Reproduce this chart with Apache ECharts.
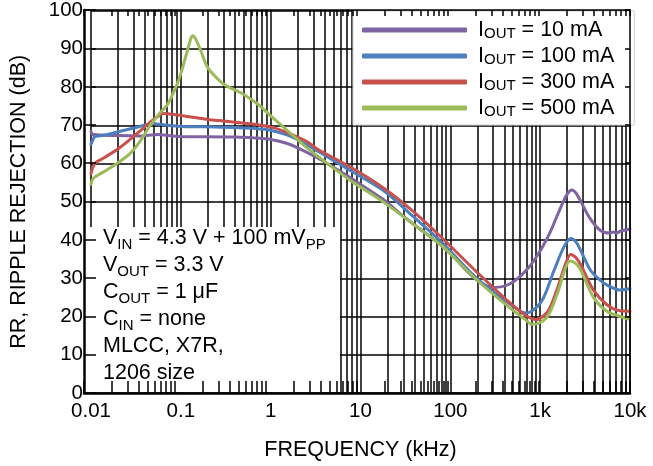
<!DOCTYPE html>
<html>
<head>
<meta charset="utf-8">
<script src="https://cdn.jsdelivr.net/npm/echarts@6/dist/echarts.min.js"></script>
<style>html,body{margin:0;padding:0;background:#fff}#c{width:653px;height:466px}</style>
</head>
<body>
<div id="c"></div>
<script>
// ---- data (frequency in kHz, RR in dB) ----
const seriesNames = ['10 mA', '100 mA', '300 mA', '500 mA'];
const seriesColors = ['#7F63A3', '#4C7FBF', '#C8504D', '#9BBB59'];

const f10  = [0.01,0.0105,0.02,0.035,0.055,0.075,0.1,0.2,0.4,0.65,1.0,1.5,2,3.3,5,7.8,12,18,30,45,68,105,160,225,310,440,620,860,1220,1700,2000,2250,2500,2800,3600,4700,6000,6500,7000,7800,10000];
const rr10 = [68.3,67.6,67.3,67.2,67.6,67.3,67.0,67.0,66.9,66.7,66.3,65.3,64.1,61.5,59.0,56.2,53.3,50.6,46.2,43.0,39.9,36.0,31.4,28.6,27.6,28.3,30.8,34.7,40.8,48.6,52.0,53.1,52.3,50.3,45.6,42.5,41.8,42.1,41.8,42.3,42.9];

const f100  = [0.01,0.0105,0.011,0.015,0.02,0.03,0.05,0.07,0.1,0.2,0.4,0.65,1.0,1.7,3.3,7.8,18,38,82,188,445,700,1030,1430,1840,2190,2500,2820,3630,4500,5580,7770,10000];
const rr100 = [65.0,66.2,67.0,67.5,68.3,69.3,70.4,70.0,69.7,69.6,69.4,69.2,68.7,67.0,63.3,58.1,52.9,46.3,39.2,30.4,23.5,20.9,23.9,32.1,38.2,40.4,39.5,37.3,32.1,29.8,28.2,26.9,27.3];

const f300  = [0.01,0.011,0.014,0.021,0.032,0.049,0.065,0.08,0.11,0.2,0.3,0.48,0.7,1.1,1.7,2.5,3.3,7.8,18,38,82,188,445,700,900,1230,1580,1900,2190,2500,2820,3920,5580,7770,10000];
const rr300 = [57.3,60.0,61.5,64.2,67.7,71.4,73.1,72.9,72.4,71.5,71.1,70.6,70.2,69.3,67.6,65.8,63.8,59.0,53.6,47.6,40.4,32.1,23.9,20.2,19.2,21.5,27.8,33.5,36.2,35.4,33.6,26.9,23.0,21.5,21.4];

const f500  = [0.01,0.0105,0.012,0.015,0.02,0.027,0.0345,0.0445,0.0505,0.06,0.07,0.08,0.09,0.1,0.115,0.13,0.137,0.15,0.17,0.19,0.21,0.26,0.31,0.48,0.72,1.1,1.7,2.5,3.9,7.8,18,38,82,188,445,700,800,950,1230,1580,1900,2150,2500,2820,3920,5580,7770,10000];
const rr500 = [54.6,56.0,57.0,58.3,60.2,62.5,65.5,69.6,71.3,73.5,75.2,77.8,80.5,83.5,88.5,92.8,93.4,92.0,89.0,86.0,84.3,82.0,80.5,78.3,75.5,71.6,67.7,64.2,60.7,55.5,49.9,44.3,38.3,30.0,22.5,19.0,18.0,18.2,20.3,26.5,32.5,34.5,33.8,32.2,25.0,21.3,20.0,19.3];

const seriesFreqs = [f10, f100, f300, f500];
const seriesValues = [rr10, rr100, rr300, rr500];

// ---- axes ----
const xDecades = [0.01, 0.1, 1, 10, 100, 1000, 10000];
const xTickLabels = ['0.01', '0.1', '1', '10', '100', '1k', '10k'];
const xMultipliers = [1, 2, 3, 4, 5, 6, 7, 8, 9];
const yMin = 0, yMax = 100, yStep = 10;

const noteLines = [
  '{m|V}{s|IN}{m| = 4.3 V + 100 mV}{s|PP}',
  '{m|V}{s|OUT}{m| = 3.3 V}',
  '{m|C}{s|OUT}{m| = 1 μF}',
  '{m|C}{s|IN}{m| = none}',
  '{m|MLCC, X7R,}',
  '{m|1206 size}'
];

// grid line positions (decades × 1..9)
const xGridValues = [];
xDecades.slice(0, -1).forEach(d => xMultipliers.forEach(m => xGridValues.push(+(d * m).toPrecision(6))));
xGridValues.push(xDecades[xDecades.length - 1]);

const FONT = '"Liberation Sans", Arial, Helvetica, sans-serif';
const labelMap = {};
xDecades.forEach((d, i) => { labelMap[String(d)] = xTickLabels[i]; });

const gridRect = { left: 84, right: 23, top: 10, bottom: 73 };

const chart = echarts.init(document.getElementById('c'), null, { renderer: 'canvas' });

const series = seriesNames.map((n, i) => ({
  name: n,
  type: 'line',
  xAxisIndex: 0,
  yAxisIndex: 0,
  showSymbol: false,
  symbol: 'none',
  smooth: 0.3,
  data: seriesFreqs[i].map((f, j) => [f, seriesValues[i][j]]),
  lineStyle: { width: 3, color: seriesColors[i], cap: 'round', join: 'round' },
  itemStyle: { color: seriesColors[i] },
  z: 3
}));

const GRIDW = 1.5;
const tickAxisX = (pos, len, lw) => ({
  type: 'log', logBase: 10, gridIndex: 1, position: pos, min: 0.01, max: 10000, z: 10,
  axisLine: { show: true, onZero: false, lineStyle: { color: '#000', width: lw } },
  axisTick: { show: true, inside: true, length: len, customValues: xGridValues, lineStyle: { color: '#000', width: GRIDW } },
  axisLabel: { show: false }, splitLine: { show: false }, minorTick: { show: false }
});
const tickAxisY = (pos, len, lw) => ({
  type: 'value', gridIndex: 1, position: pos, min: yMin, max: yMax, interval: yStep, z: 10,
  axisLine: { show: true, onZero: false, lineStyle: { color: '#000', width: lw } },
  axisTick: { show: true, inside: true, length: len, lineStyle: { color: '#000', width: GRIDW } },
  axisLabel: { show: false }, splitLine: { show: false }
});

const option = {
  animation: false,
  backgroundColor: '#fff',
  textStyle: { fontFamily: FONT },
  grid: [
    Object.assign({ containLabel: false }, gridRect),
    Object.assign({ containLabel: false }, gridRect)
  ],
  legend: {
    show: true,
    orient: 'vertical',
    left: 353,
    top: 11,
    padding: [8, 20, 6, 9],
    itemGap: 4,
    itemWidth: 105,
    itemHeight: 5,
    icon: 'roundRect',
    backgroundColor: '#fff',
    borderColor: '#cfcfcf',
    borderWidth: 1,
    z: 6,
    selectedMode: false,
    data: seriesNames,
    formatter: name => '{m|I}{s|OUT}{m| = ' + name + '}',
    textStyle: {
      color: '#000',
      padding: [0, 0, 0, 6],
      rich: {
        m: { fontSize: 21.5, lineHeight: 22, fontFamily: FONT, color: '#000' },
        s: { fontSize: 15, lineHeight: 9, verticalAlign: 'bottom', fontFamily: FONT, color: '#000' }
      }
    }
  },
  xAxis: [
    {
      type: 'log', logBase: 10, gridIndex: 0, min: 0.01, max: 10000, position: 'bottom', z: 0,
      name: 'FREQUENCY (kHz)', nameLocation: 'middle', nameGap: 46,
      nameTextStyle: { fontSize: 21.5, color: '#000', fontFamily: FONT },
      axisLine: { show: false },
      axisTick: { show: false, customValues: xGridValues },
      axisLabel: {
        show: true, customValues: xDecades, margin: 8, fontSize: 20.5, color: '#000', fontFamily: FONT,
        formatter: v => labelMap[String(+(+v).toPrecision(6))] || ''
      },
      splitLine: { show: true, lineStyle: { color: '#000', width: GRIDW } },
      minorTick: { show: false }, minorSplitLine: { show: false }
    },
    tickAxisX('bottom', 12, 2.5),
    tickAxisX('top', 6, 1.5)
  ],
  yAxis: [
    {
      type: 'value', gridIndex: 0, min: yMin, max: yMax, interval: yStep, position: 'left', z: 0,
      name: 'RR, RIPPLE REJECTION (dB)', nameLocation: 'middle', nameGap: 61, nameRotate: 90,
      nameTextStyle: { fontSize: 21.5, color: '#000', fontFamily: FONT },
      axisLine: { show: false },
      axisTick: { show: false },
      axisLabel: { show: true, margin: 8, fontSize: 20.5, color: '#000', fontFamily: FONT },
      splitLine: { show: true, lineStyle: { color: '#000', width: GRIDW } }
    },
    tickAxisY('left', 12, 2.5),
    tickAxisY('right', 5, 1.5)
  ],
  graphic: [
    {
      type: 'rect', z: 5, silent: true,
      shape: { x: 86, y: 227, width: 254, height: 165 },
      style: { fill: '#fff' }
    },
    {
      type: 'text', z: 6, silent: true,
      x: 103, y: 225,
      style: {
        text: noteLines.join('\n'),
        fill: '#000',
        verticalAlign: 'top',
        align: 'left',
        rich: {
          m: { fontSize: 21.5, lineHeight: 27, fontFamily: FONT, fill: '#000' },
          s: { fontSize: 15, lineHeight: 14, verticalAlign: 'bottom', fontFamily: FONT, fill: '#000' }
        }
      }
    }
  ],
  series: series
};

chart.setOption(option);
</script>
</body>
</html>
